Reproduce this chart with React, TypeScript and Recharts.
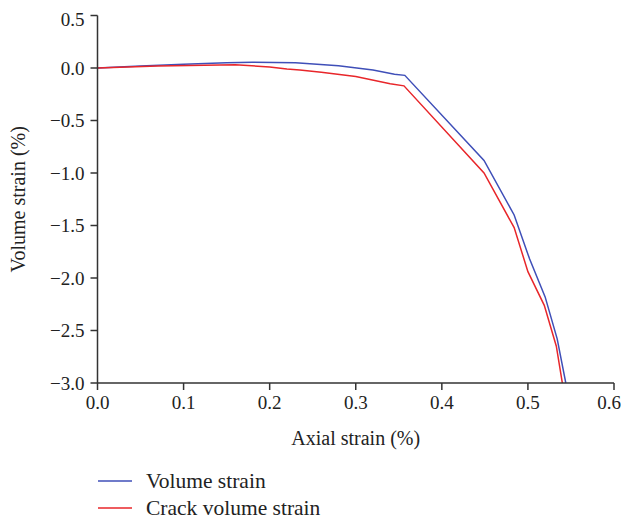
import { LineChart, Line, XAxis, YAxis, Legend, Text } from 'recharts'

const xTicks = [0, 0.1, 0.2, 0.3, 0.4, 0.5, 0.6]
const yTicks = [-3, -2.5, -2, -1.5, -1, -0.5, 0, 0.5]

// Volume strain
const volumeX = [0, 0.05, 0.1, 0.15, 0.18, 0.23, 0.28, 0.32, 0.345, 0.357, 0.449, 0.484, 0.502, 0.52, 0.534, 0.544]
const volumeY = [0, 0.02, 0.035, 0.05, 0.055, 0.05, 0.022, -0.02, -0.06, -0.07, -0.88, -1.4, -1.82, -2.18, -2.58, -3.0]

// Crack volume strain
const crackX = [0, 0.07, 0.16, 0.2, 0.22, 0.235, 0.26, 0.3, 0.34, 0.356, 0.449, 0.484, 0.5, 0.519, 0.533, 0.54]
const crackY = [0, 0.02, 0.03, 0.01, -0.01, -0.02, -0.04, -0.08, -0.15, -0.17, -1.0, -1.52, -1.94, -2.26, -2.65, -3.0]

const BLUE = '#3f4fb8'
const RED = '#e8262a'
const AXIS = '#333333'
const FONT = '"Liberation Serif", "Times New Roman", serif'

const volumeData = volumeX.map((x, i) => ({ x, y: volumeY[i] }))
const crackData = crackX.map((x, i) => ({ x, y: crackY[i] }))

const fmt = (v: number) => v.toFixed(1).replace('-', '\u2212')

const legendItems = [
    { label: 'Volume strain', color: BLUE },
    { label: 'Crack volume strain', color: RED },
]

function LegendBox() {
    return (
        <div style={{ paddingLeft: 90, fontFamily: FONT, fontSize: 21.5, color: '#222' }}>
            {legendItems.map((item, i) => (
                <div
                    key={item.label}
                    style={{ display: 'flex', alignItems: 'center', height: 18, lineHeight: '18px', marginTop: i ? 9 : 0 }}
                >
                    <svg width={34} height={4} style={{ marginRight: 14 }}>
                        <line x1={0} y1={2} x2={34} y2={2} stroke={item.color} strokeWidth={1.5} />
                    </svg>
                    <span>{item.label}</span>
                </div>
            ))}
        </div>
    )
}

// the last label sits at the page edge, nudge it in so it stays visible
function XTick(props: any) {
    const { x, y, payload, textAnchor, verticalAnchor } = props
    const last = payload.value === xTicks[xTicks.length - 1]
    return (
        <Text
            x={x}
            y={y}
            dx={last ? -5 : 0}
            textAnchor={textAnchor}
            verticalAnchor={verticalAnchor}
            fill="#222"
            fontSize={19}
            fontFamily={FONT}
        >
            {fmt(payload.value)}
        </Text>
    )
}

export default function App() {
    const tickStyle = { fill: '#222', fontSize: 19, fontFamily: FONT }
    const labelStyle = { fill: '#222', fontSize: 20, fontFamily: FONT }
    return (
        <div style={{ width: 621, height: 509 }}>
            <style>{'html, body { overflow: hidden; } .recharts-surface { overflow: visible; }'}</style>
            <LineChart
                width={621}
                height={509}
                margin={{ top: 7.5, right: 15, left: 0, bottom: 0 }}
                style={{ fontFamily: FONT }}
            >
                <XAxis
                    type="number"
                    dataKey="x"
                    domain={[0, 0.6]}
                    ticks={xTicks}
                    stroke={AXIS}
                    strokeWidth={1.5}
                    tickSize={7}
                    tickMargin={6}
                    tick={<XTick />}
                    height={89}
                    label={{ value: 'Axial strain (%)', position: 'insideBottom', offset: 27, style: labelStyle }}
                />
                <YAxis
                    type="number"
                    dataKey="y"
                    domain={[-3, 0.5]}
                    ticks={yTicks}
                    tickFormatter={fmt}
                    allowDataOverflow
                    stroke={AXIS}
                    strokeWidth={1.5}
                    tickSize={7}
                    tickMargin={6}
                    tick={tickStyle}
                    width={89.5}
                    label={{ value: 'Volume strain (%)', angle: -90, position: 'insideLeft', offset: 10, style: { ...labelStyle, textAnchor: 'middle' } }}
                />
                <Legend verticalAlign="bottom" align="left" content={() => <LegendBox />} wrapperStyle={{ height: 45 }} />
                <Line data={volumeData} dataKey="y" name="Volume strain" type="linear" stroke={BLUE} strokeWidth={1.5} dot={false} isAnimationActive={false} />
                <Line data={crackData} dataKey="y" name="Crack volume strain" type="linear" stroke={RED} strokeWidth={1.5} dot={false} isAnimationActive={false} />
            </LineChart>
        </div>
    )
}
